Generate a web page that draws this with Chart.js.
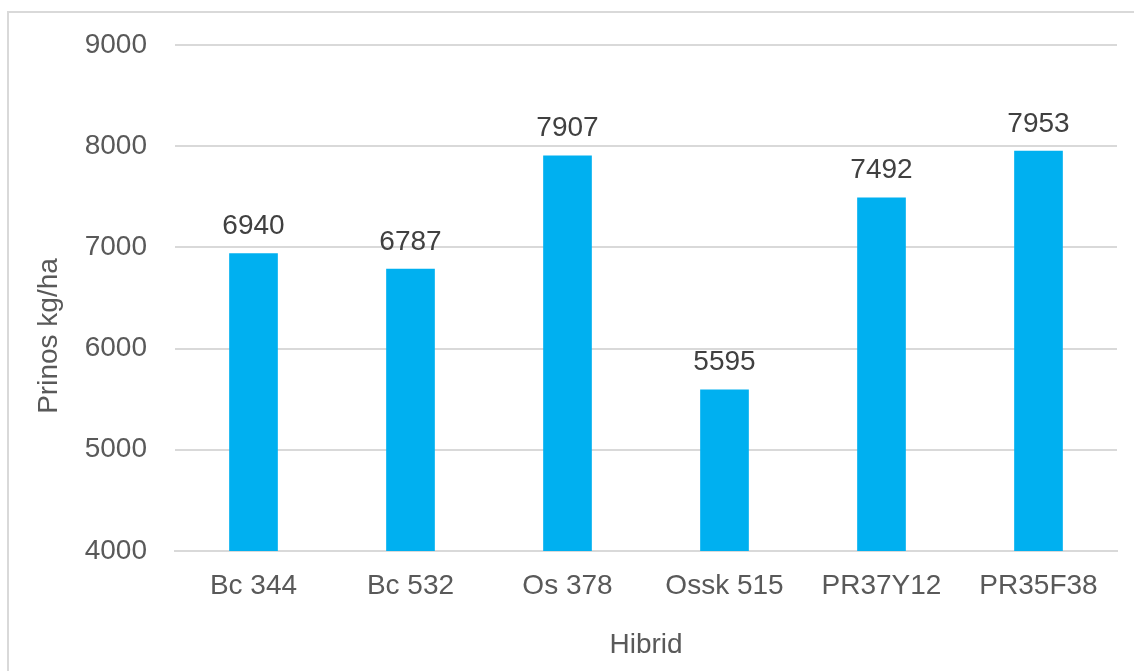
<!DOCTYPE html>
<html>
<head>
<meta charset="utf-8">
<script src="https://cdn.jsdelivr.net/npm/chart.js@4"></script>
<style>
    html, body { margin: 0; padding: 0; background: #fff; overflow: hidden; }
    #frame { position: absolute; left: 7px; top: 11px; width: 1140px; height: 680px; border: 2px solid #d9d9d9; box-sizing: border-box; }
    #chart { position: absolute; left: 0; top: 0; }
</style>
</head>
<body>
<div id="frame"></div>
<canvas id="chart" width="1134" height="671"></canvas>
<script>
// Yield per hybrid
const hybrids = ['Bc 344', 'Bc 532', 'Os 378', 'Ossk 515', 'PR37Y12', 'PR35F38'];
const yields = [6940, 6787, 7907, 5595, 7492, 7953];
const yTicks = [4000, 5000, 6000, 7000, 8000, 9000];
const yTitle = 'Prinos kg/ha';

const FONT = "'Liberation Sans', Arial, sans-serif";

// value labels above bars + y axis title (sits a bit low, like in Excel)
const barLabels = {
    id: 'barLabels',
    afterDatasetsDraw(chart) {
        const ctx = chart.ctx;
        ctx.save();
        ctx.font = '28px ' + FONT;
        ctx.fillStyle = '#404040';
        ctx.textAlign = 'center';
        ctx.textBaseline = 'bottom';
        chart.getDatasetMeta(0).data.forEach((bar, i) => {
            ctx.fillText(String(yields[i]), bar.x, bar.y - 13);
        });
        ctx.fillStyle = '#595959';
        ctx.textBaseline = 'alphabetic';
        ctx.translate(57, 336);
        ctx.rotate(-Math.PI / 2);
        ctx.fillText(yTitle, 0, 0);
        ctx.restore();
    }
};

new Chart(document.getElementById('chart').getContext('2d'), {
    type: 'bar',
    data: {
        labels: hybrids,
        datasets: [{
            data: yields,
            backgroundColor: '#00b0f0',
            borderWidth: 0,
            categoryPercentage: 1,
            barPercentage: 0.31,
        }],
    },
    options: {
        responsive: false,
        animation: false,
        layout: { padding: { left: 0, right: 17, top: 43, bottom: 0 } },
        plugins: { legend: { display: false }, tooltip: { enabled: false } },
        scales: {
            x: {
                grid: { display: false, drawTicks: false },
                border: { color: '#d9d9d9', width: 2 },
                ticks: { color: '#595959', font: { family: FONT, size: 28 }, padding: 18 },
                title: { display: true, text: 'Hibrid', color: '#595959', font: { family: FONT, size: 28 }, padding: { top: 9, bottom: 9 } },
                afterFit: s => { s.height = 120; },
            },
            y: {
                min: 4000,
                max: 9000,
                afterBuildTicks: s => { s.ticks = yTicks.map(v => ({ value: v })); },
                grid: { color: '#d9d9d9', lineWidth: 2, drawTicks: false },
                border: { display: false },
                ticks: { color: '#595959', font: { family: FONT, size: 28 }, padding: 28, callback: v => String(v) },
                afterFit: s => { s.width = 175; },
            },
        },
    },
    plugins: [barLabels],
});
</script>
</body>
</html>
